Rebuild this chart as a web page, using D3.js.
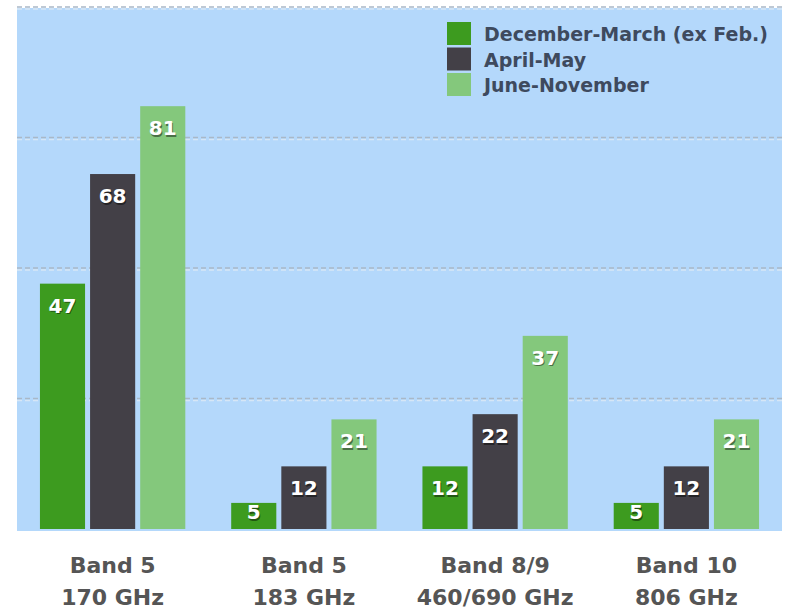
<!DOCTYPE html>
<html><head><meta charset="utf-8">
<script src="https://cdn.jsdelivr.net/npm/d3@7"></script>
<style>body{margin:0;background:#fff;}svg{display:block;}</style>
</head><body>
<svg id="chart" width="786" height="609"></svg>
<script>
const categories = ["Band 5|170 GHz", "Band 5|183 GHz", "Band 8/9|460/690 GHz", "Band 10|806 GHz"];
const seriesNames = ["December-March (ex Feb.)", "April-May", "June-November"];
const decMar = [47, 5, 12, 5];
const aprMay = [68, 12, 22, 12];
const junNov = [81, 21, 37, 21];
const gridTicks = [25, 50, 75, 100];
const colors = ["#3d9b1f", "#434047", "#84c87c"];

const series = [decMar, aprMay, junNov];
const svg = d3.select("#chart");
const plot = {left: 17, right: 782, top: 7, bottom: 529};

const x0 = d3.scaleBand().domain(categories).range([plot.left, plot.right]).paddingInner(0.24).paddingOuter(0.12);
const x1 = d3.scaleBand().domain(d3.range(series.length)).range([0, x0.bandwidth()]).paddingInner(0.1).paddingOuter(0);
const y = d3.scaleLinear().domain([0, 100]).range([plot.bottom, plot.top]);

// background
svg.append("rect").attr("x", plot.left).attr("y", 8).attr("width", plot.right - plot.left).attr("height", y(0) + 2 - 8).attr("fill", "#b4d8fb");

// gridlines
const grid = svg.append("g");
grid.selectAll("line.hi").data(gridTicks).join("line").attr("class", "hi")
  .attr("x1", plot.left).attr("x2", plot.right)
  .attr("y1", d => y(d) + 2).attr("y2", d => y(d) + 2)
  .attr("stroke", "#d6e6f6").attr("stroke-width", 1.5).attr("stroke-dasharray", "5,3");
grid.selectAll("line.lo").data(gridTicks).join("line").attr("class", "lo")
  .attr("x1", plot.left).attr("x2", plot.right)
  .attr("y1", d => y(d)).attr("y2", d => y(d))
  .attr("stroke", "#a9b8c8").attr("stroke-width", 1.5).attr("stroke-dasharray", "5,3");

// bars
const groups = svg.append("g").selectAll("g").data(categories).join("g")
  .attr("transform", d => `translate(${x0(d)},0)`);

groups.each(function(cat, ci) {
  const g = d3.select(this);
  series.forEach((s, si) => {
    const v = s[ci];
    g.append("rect").attr("x", x1(si)).attr("y", y(v)).attr("width", x1.bandwidth()).attr("height", y(0) - y(v)).attr("fill", colors[si]);
    const ty = Math.min(y(v) + 29, y(0) - 10);
    const cx = x1(si) + x1.bandwidth() / 2;
    g.append("text").attr("x", cx + 1).attr("y", ty + 1.5).attr("text-anchor", "middle")
      .attr("font-family", "DejaVu Sans").attr("font-weight", "bold").attr("font-size", 20)
      .attr("fill", "rgba(0,0,0,0.45)").text(v);
    g.append("text").attr("x", cx).attr("y", ty).attr("text-anchor", "middle")
      .attr("font-family", "DejaVu Sans").attr("font-weight", "bold").attr("font-size", 20)
      .attr("fill", "#ffffff").text(v);
  });
});

// category labels
const labels = svg.append("g").selectAll("text").data(categories).join("text")
  .attr("x", d => x0(d) + x0.bandwidth() / 2).attr("text-anchor", "middle")
  .attr("font-family", "DejaVu Sans").attr("font-weight", "bold").attr("font-size", 22)
  .attr("fill", "#555555");
labels.each(function(d) {
  const parts = d.split("|");
  const t = d3.select(this);
  t.append("tspan").attr("x", x0(d) + x0.bandwidth() / 2).attr("y", 573).text(parts[0]);
  t.append("tspan").attr("x", x0(d) + x0.bandwidth() / 2).attr("y", 605).text(parts[1]);
});

// legend
const legend = svg.append("g").attr("transform", "translate(447,22)");
seriesNames.forEach((n, i) => {
  legend.append("rect").attr("x", 0).attr("y", i * 25.5).attr("width", 24).attr("height", 23).attr("fill", colors[i]);
  legend.append("text").attr("x", 37).attr("y", i * 25.5 + 19).attr("font-family", "DejaVu Sans").attr("font-weight", "bold")
    .attr("font-size", 19).attr("fill", "#3e4a5e").text(n);
});
</script>
</body></html>
